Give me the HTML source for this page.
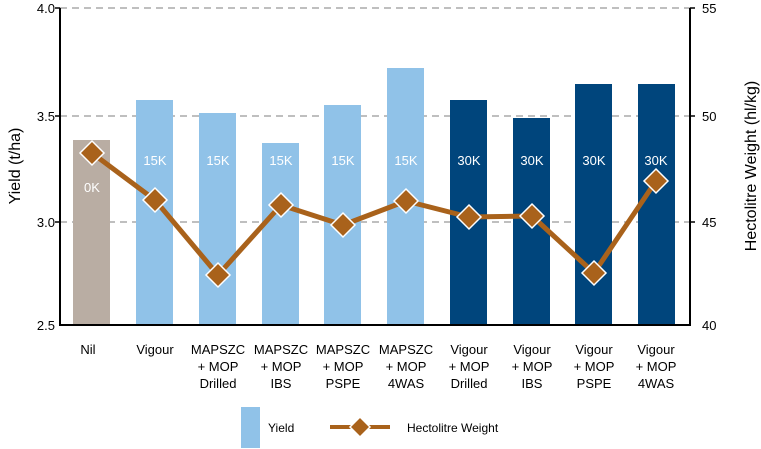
<!DOCTYPE html>
<html><head><style>body{margin:0;background:#fff}svg{display:block;font-family:"Liberation Sans",Arial,sans-serif}</style></head>
<body>
<svg width="761" height="449" viewBox="0 0 761 449">
<g stroke="#aaa" stroke-width="1.5" stroke-dasharray="7,5">
<line x1="60" y1="8" x2="690" y2="8"/><line x1="60" y1="116" x2="690" y2="116"/><line x1="60" y1="222" x2="690" y2="222"/>
</g>
<g>
<rect x="73" y="140" width="37" height="185" fill="#b9ada3"/>
<rect x="136" y="100" width="37" height="225" fill="#90c2e8"/>
<rect x="199" y="113" width="37" height="212" fill="#90c2e8"/>
<rect x="262" y="143" width="37" height="182" fill="#90c2e8"/>
<rect x="324" y="105" width="37" height="220" fill="#90c2e8"/>
<rect x="387" y="68" width="37" height="257" fill="#90c2e8"/>
<rect x="450" y="100" width="37" height="225" fill="#00457c"/>
<rect x="513" y="118" width="37" height="207" fill="#00457c"/>
<rect x="575" y="84" width="37" height="241" fill="#00457c"/>
<rect x="638" y="84" width="37" height="241" fill="#00457c"/>
</g>
<g fill="#fff" font-size="13" text-anchor="middle">
<text x="92" y="192">0K</text><text x="155" y="165">15K</text><text x="218" y="165">15K</text><text x="281" y="165">15K</text><text x="343" y="165">15K</text><text x="406" y="165">15K</text><text x="469" y="165">30K</text><text x="532" y="165">30K</text><text x="594" y="165">30K</text><text x="656" y="165">30K</text>
</g>
<g stroke="#000" stroke-width="2" fill="none"><polyline points="60,8 60,325 690,325 690,8"/></g>
<g stroke="#000" stroke-width="1.5"><line x1="55" y1="8" x2="60" y2="8"/><line x1="55" y1="116" x2="60" y2="116"/><line x1="55" y1="222" x2="60" y2="222"/><line x1="690" y1="8" x2="695" y2="8"/><line x1="690" y1="116" x2="695" y2="116"/><line x1="690" y1="222" x2="695" y2="222"/></g>
<polyline points="92,153 155,200 218,275 281,205 343,225 406,201 469,217 532,216 594,273 656,181" fill="none" stroke="#a9621b" stroke-width="5" stroke-linejoin="round"/>
<g fill="#a9621b" stroke="#fff" stroke-width="1.5">
<path d="M92,141 l12,12 -12,12 -12,-12z"/><path d="M155,188 l12,12 -12,12 -12,-12z"/><path d="M218,263 l12,12 -12,12 -12,-12z"/><path d="M281,193 l12,12 -12,12 -12,-12z"/><path d="M343,213 l12,12 -12,12 -12,-12z"/><path d="M406,189 l12,12 -12,12 -12,-12z"/><path d="M469,205 l12,12 -12,12 -12,-12z"/><path d="M532,204 l12,12 -12,12 -12,-12z"/><path d="M594,261 l12,12 -12,12 -12,-12z"/><path d="M656,169 l12,12 -12,12 -12,-12z"/>
</g>
<g font-size="13" fill="#000" text-anchor="end">
<text x="55" y="13">4.0</text><text x="55" y="121">3.5</text><text x="55" y="227">3.0</text><text x="55" y="330">2.5</text>
</g>
<g font-size="13" fill="#000">
<text x="702" y="13">55</text><text x="702" y="121">50</text><text x="702" y="227">45</text><text x="702" y="330">40</text>
</g>
<text transform="translate(20,166) rotate(-90)" font-size="16" text-anchor="middle">Yield (t/ha)</text>
<text transform="translate(756,166) rotate(-90)" font-size="16" text-anchor="middle">Hectolitre Weight (hl/kg)</text>
<g font-size="13" text-anchor="middle">
<text x="88" y="354">Nil</text>
<text x="155" y="354">Vigour</text>
<text x="218" y="354">MAPSZC</text><text x="218" y="371">+ MOP</text><text x="218" y="388">Drilled</text>
<text x="281" y="354">MAPSZC</text><text x="281" y="371">+ MOP</text><text x="281" y="388">IBS</text>
<text x="343" y="354">MAPSZC</text><text x="343" y="371">+ MOP</text><text x="343" y="388">PSPE</text>
<text x="406" y="354">MAPSZC</text><text x="406" y="371">+ MOP</text><text x="406" y="388">4WAS</text>
<text x="469" y="354">Vigour</text><text x="469" y="371">+ MOP</text><text x="469" y="388">Drilled</text>
<text x="532" y="354">Vigour</text><text x="532" y="371">+ MOP</text><text x="532" y="388">IBS</text>
<text x="594" y="354">Vigour</text><text x="594" y="371">+ MOP</text><text x="594" y="388">PSPE</text>
<text x="656" y="354">Vigour</text><text x="656" y="371">+ MOP</text><text x="656" y="388">4WAS</text>
</g>
<rect x="241" y="407" width="19" height="41" fill="#90c2e8"/>
<text x="268" y="432" font-size="12">Yield</text>
<line x1="330" y1="427" x2="390" y2="427" stroke="#a9621b" stroke-width="4"/>
<path d="M360,417 l10,10 -10,10 -10,-10z" fill="#a9621b" stroke="#fff" stroke-width="1.5"/>
<text x="407" y="432" font-size="12">Hectolitre Weight</text>
</svg>
</body></html>
